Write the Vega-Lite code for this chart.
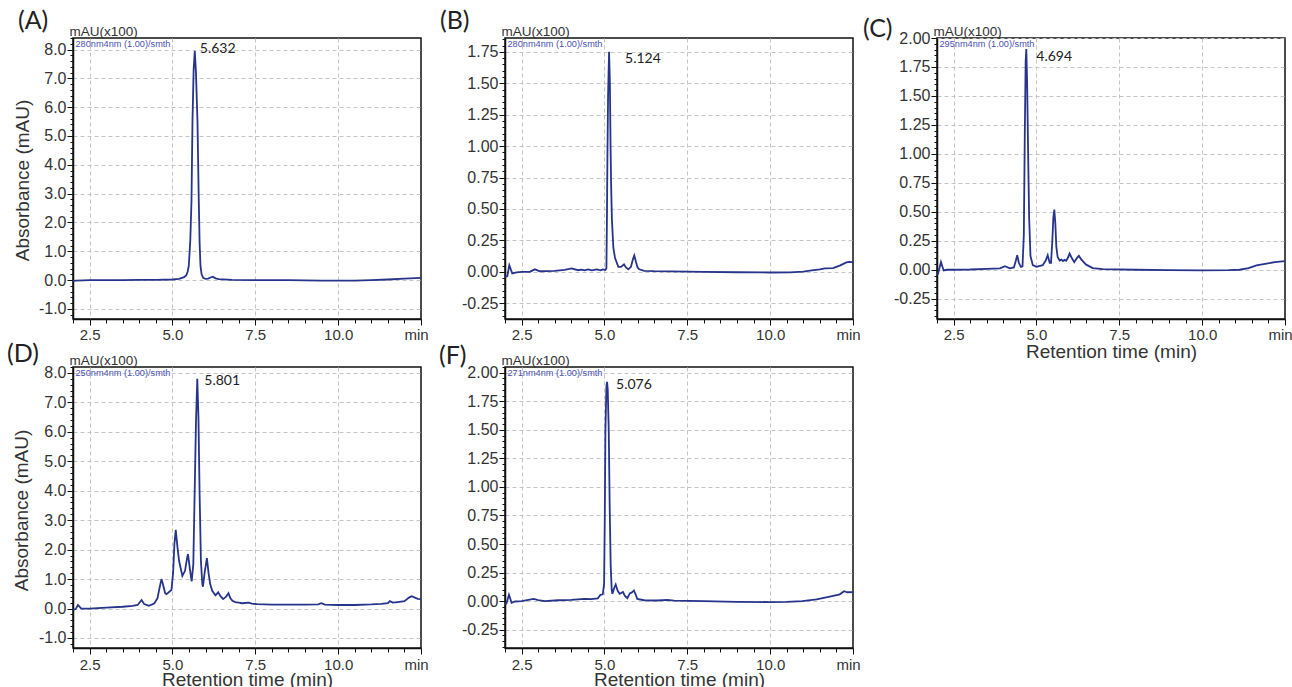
{
  "$schema": "https://vega.github.io/schema/vega-lite/v6.json",
  "background": "white",
  "autosize": {"type": "pad"},
  "padding": {"left": 6, "top": 8, "right": 5, "bottom": 0},
  "datasets": {
    "A": [{"rt":2.0,"abs":-0.03},{"rt":2.1,"abs":-0.02},{"rt":2.5,"abs":0.0},{"rt":3.0,"abs":0.0},{"rt":3.5,"abs":0.0},{"rt":4.0,"abs":0.01},{"rt":4.5,"abs":0.01},{"rt":5.0,"abs":0.02},{"rt":5.2,"abs":0.04},{"rt":5.35,"abs":0.1},{"rt":5.42,"abs":0.17},{"rt":5.46,"abs":0.3},{"rt":5.494,"abs":0.5},{"rt":5.54,"abs":1.4},{"rt":5.575,"abs":2.75},{"rt":5.605,"abs":5.5},{"rt":5.64,"abs":7.3},{"rt":5.675,"abs":7.95},{"rt":5.71,"abs":7.2},{"rt":5.756,"abs":5.5},{"rt":5.795,"abs":2.75},{"rt":5.82,"abs":1.3},{"rt":5.846,"abs":0.5},{"rt":5.88,"abs":0.2},{"rt":5.93,"abs":0.08},{"rt":6.0,"abs":0.04},{"rt":6.08,"abs":0.05},{"rt":6.15,"abs":0.09},{"rt":6.22,"abs":0.12},{"rt":6.3,"abs":0.06},{"rt":6.4,"abs":0.03},{"rt":6.8,"abs":0.01},{"rt":7.5,"abs":0.0},{"rt":8.5,"abs":0.0},{"rt":9.5,"abs":-0.02},{"rt":10.5,"abs":-0.02},{"rt":11.0,"abs":0.0},{"rt":11.5,"abs":0.02},{"rt":12.0,"abs":0.05},{"rt":12.5,"abs":0.08}],
    "B": [{"rt":2.0,"abs":-0.04},{"rt":2.07,"abs":-0.035},{"rt":2.13,"abs":0.053},{"rt":2.22,"abs":-0.013},{"rt":2.35,"abs":-0.005},{"rt":2.5,"abs":0.0},{"rt":2.75,"abs":0.0},{"rt":2.9,"abs":0.02},{"rt":3.05,"abs":0.005},{"rt":3.5,"abs":0.008},{"rt":3.8,"abs":0.015},{"rt":4.01,"abs":0.027},{"rt":4.2,"abs":0.013},{"rt":4.3,"abs":0.018},{"rt":4.4,"abs":0.012},{"rt":4.51,"abs":0.02},{"rt":4.62,"abs":0.012},{"rt":4.77,"abs":0.019},{"rt":4.88,"abs":0.012},{"rt":4.95,"abs":0.02},{"rt":5.03,"abs":0.015},{"rt":5.06,"abs":0.03},{"rt":5.075,"abs":0.4},{"rt":5.09,"abs":0.9},{"rt":5.11,"abs":1.4},{"rt":5.14,"abs":1.75},{"rt":5.165,"abs":1.5},{"rt":5.185,"abs":1.0},{"rt":5.2,"abs":0.72},{"rt":5.225,"abs":0.42},{"rt":5.27,"abs":0.19},{"rt":5.32,"abs":0.11},{"rt":5.42,"abs":0.04},{"rt":5.5,"abs":0.04},{"rt":5.59,"abs":0.06},{"rt":5.65,"abs":0.035},{"rt":5.72,"abs":0.02},{"rt":5.8,"abs":0.04},{"rt":5.86,"abs":0.1},{"rt":5.9,"abs":0.13},{"rt":5.95,"abs":0.08},{"rt":6.0,"abs":0.035},{"rt":6.05,"abs":0.02},{"rt":6.2,"abs":0.008},{"rt":6.5,"abs":0.005},{"rt":7.0,"abs":0.003},{"rt":8.0,"abs":0.0},{"rt":9.0,"abs":-0.003},{"rt":10.0,"abs":-0.005},{"rt":10.6,"abs":-0.004},{"rt":11.0,"abs":0.002},{"rt":11.2,"abs":0.01},{"rt":11.5,"abs":0.02},{"rt":11.65,"abs":0.027},{"rt":11.9,"abs":0.03},{"rt":12.1,"abs":0.05},{"rt":12.3,"abs":0.075},{"rt":12.4,"abs":0.08},{"rt":12.5,"abs":0.075}],
    "C": [{"rt":2.0,"abs":-0.04},{"rt":2.03,"abs":-0.035},{"rt":2.12,"abs":0.066},{"rt":2.2,"abs":-0.006},{"rt":2.3,"abs":0.0},{"rt":2.5,"abs":0.0},{"rt":3.0,"abs":0.002},{"rt":3.5,"abs":0.008},{"rt":3.9,"abs":0.012},{"rt":4.05,"abs":0.03},{"rt":4.2,"abs":0.012},{"rt":4.32,"abs":0.02},{"rt":4.38,"abs":0.08},{"rt":4.42,"abs":0.125},{"rt":4.47,"abs":0.06},{"rt":4.53,"abs":0.025},{"rt":4.58,"abs":0.03},{"rt":4.62,"abs":0.3},{"rt":4.65,"abs":1.2},{"rt":4.675,"abs":1.8},{"rt":4.695,"abs":1.905},{"rt":4.72,"abs":1.6},{"rt":4.75,"abs":1.0},{"rt":4.78,"abs":0.45},{"rt":4.82,"abs":0.12},{"rt":4.89,"abs":0.04},{"rt":5.0,"abs":0.025},{"rt":5.19,"abs":0.04},{"rt":5.28,"abs":0.08},{"rt":5.34,"abs":0.125},{"rt":5.4,"abs":0.06},{"rt":5.44,"abs":0.06},{"rt":5.48,"abs":0.25},{"rt":5.51,"abs":0.45},{"rt":5.54,"abs":0.52},{"rt":5.57,"abs":0.4},{"rt":5.6,"abs":0.2},{"rt":5.64,"abs":0.11},{"rt":5.7,"abs":0.08},{"rt":5.75,"abs":0.087},{"rt":5.8,"abs":0.075},{"rt":5.85,"abs":0.085},{"rt":5.9,"abs":0.077},{"rt":5.96,"abs":0.11},{"rt":6.0,"abs":0.14},{"rt":6.05,"abs":0.11},{"rt":6.14,"abs":0.066},{"rt":6.22,"abs":0.1},{"rt":6.28,"abs":0.12},{"rt":6.35,"abs":0.09},{"rt":6.5,"abs":0.044},{"rt":6.7,"abs":0.014},{"rt":7.0,"abs":0.005},{"rt":8.0,"abs":0.0},{"rt":9.0,"abs":-0.004},{"rt":10.0,"abs":-0.005},{"rt":10.8,"abs":-0.003},{"rt":11.13,"abs":0.0},{"rt":11.4,"abs":0.015},{"rt":11.64,"abs":0.037},{"rt":11.9,"abs":0.05},{"rt":12.19,"abs":0.066},{"rt":12.5,"abs":0.075}],
    "D": [{"rt":2.0,"abs":-0.05},{"rt":2.08,"abs":-0.02},{"rt":2.15,"abs":0.12},{"rt":2.25,"abs":0.0},{"rt":2.5,"abs":0.0},{"rt":3.0,"abs":0.03},{"rt":3.5,"abs":0.06},{"rt":3.8,"abs":0.09},{"rt":3.95,"abs":0.12},{"rt":4.07,"abs":0.29},{"rt":4.15,"abs":0.15},{"rt":4.29,"abs":0.09},{"rt":4.45,"abs":0.17},{"rt":4.55,"abs":0.35},{"rt":4.62,"abs":0.75},{"rt":4.67,"abs":1.0},{"rt":4.72,"abs":0.8},{"rt":4.78,"abs":0.52},{"rt":4.82,"abs":0.49},{"rt":4.97,"abs":0.63},{"rt":5.02,"abs":1.2},{"rt":5.06,"abs":2.2},{"rt":5.1,"abs":2.67},{"rt":5.15,"abs":2.1},{"rt":5.2,"abs":1.62},{"rt":5.3,"abs":1.11},{"rt":5.38,"abs":1.28},{"rt":5.44,"abs":1.7},{"rt":5.47,"abs":1.85},{"rt":5.52,"abs":1.4},{"rt":5.58,"abs":0.92},{"rt":5.63,"abs":1.5},{"rt":5.67,"abs":3.9},{"rt":5.71,"abs":6.3},{"rt":5.75,"abs":7.8},{"rt":5.785,"abs":6.5},{"rt":5.82,"abs":3.9},{"rt":5.86,"abs":1.6},{"rt":5.9,"abs":0.85},{"rt":5.92,"abs":0.74},{"rt":5.97,"abs":1.2},{"rt":6.04,"abs":1.71},{"rt":6.09,"abs":1.2},{"rt":6.14,"abs":0.83},{"rt":6.2,"abs":0.6},{"rt":6.3,"abs":0.45},{"rt":6.38,"abs":0.55},{"rt":6.45,"abs":0.42},{"rt":6.53,"abs":0.32},{"rt":6.62,"abs":0.4},{"rt":6.69,"abs":0.52},{"rt":6.75,"abs":0.35},{"rt":6.81,"abs":0.26},{"rt":6.9,"abs":0.22},{"rt":7.0,"abs":0.2},{"rt":7.1,"abs":0.18},{"rt":7.3,"abs":0.2},{"rt":7.4,"abs":0.17},{"rt":7.55,"abs":0.15},{"rt":8.0,"abs":0.13},{"rt":8.5,"abs":0.13},{"rt":9.0,"abs":0.13},{"rt":9.4,"abs":0.14},{"rt":9.49,"abs":0.18},{"rt":9.6,"abs":0.13},{"rt":10.0,"abs":0.12},{"rt":10.5,"abs":0.12},{"rt":11.0,"abs":0.14},{"rt":11.3,"abs":0.16},{"rt":11.5,"abs":0.18},{"rt":11.56,"abs":0.25},{"rt":11.65,"abs":0.2},{"rt":11.8,"abs":0.22},{"rt":12.0,"abs":0.25},{"rt":12.15,"abs":0.38},{"rt":12.22,"abs":0.42},{"rt":12.3,"abs":0.38},{"rt":12.4,"abs":0.33},{"rt":12.5,"abs":0.32}],
    "F": [{"rt":2.0,"abs":-0.025},{"rt":2.04,"abs":-0.023},{"rt":2.12,"abs":0.056},{"rt":2.2,"abs":-0.014},{"rt":2.3,"abs":-0.003},{"rt":2.5,"abs":0.0},{"rt":2.87,"abs":0.02},{"rt":3.0,"abs":0.01},{"rt":3.2,"abs":0.0},{"rt":3.6,"abs":0.008},{"rt":4.0,"abs":0.012},{"rt":4.4,"abs":0.02},{"rt":4.6,"abs":0.018},{"rt":4.8,"abs":0.025},{"rt":4.88,"abs":0.056},{"rt":4.95,"abs":0.06},{"rt":4.99,"abs":0.15},{"rt":5.01,"abs":0.7},{"rt":5.03,"abs":1.5},{"rt":5.06,"abs":1.88},{"rt":5.08,"abs":1.92},{"rt":5.1,"abs":1.85},{"rt":5.13,"abs":1.5},{"rt":5.16,"abs":0.8},{"rt":5.19,"abs":0.3},{"rt":5.22,"abs":0.1},{"rt":5.24,"abs":0.065},{"rt":5.3,"abs":0.12},{"rt":5.34,"abs":0.146},{"rt":5.4,"abs":0.09},{"rt":5.46,"abs":0.065},{"rt":5.56,"abs":0.08},{"rt":5.62,"abs":0.045},{"rt":5.69,"abs":0.026},{"rt":5.77,"abs":0.07},{"rt":5.82,"abs":0.075},{"rt":5.89,"abs":0.094},{"rt":5.94,"abs":0.06},{"rt":5.99,"abs":0.02},{"rt":6.2,"abs":0.008},{"rt":6.6,"abs":0.006},{"rt":6.9,"abs":0.012},{"rt":7.1,"abs":0.004},{"rt":8.0,"abs":0.0},{"rt":9.0,"abs":-0.006},{"rt":10.0,"abs":-0.008},{"rt":10.5,"abs":-0.006},{"rt":10.97,"abs":0.0},{"rt":11.4,"abs":0.015},{"rt":11.8,"abs":0.04},{"rt":12.1,"abs":0.06},{"rt":12.23,"abs":0.087},{"rt":12.33,"abs":0.078},{"rt":12.5,"abs":0.08}]
  },
  "columns": 3,
  "spacing": {"row": 48, "column": 84},
  "bounds": "flush",
  "concat": [
    {
      "width": 348, "height": 281,
      "title": {"text": "(A)", "anchor": "start", "frame": "group", "align": "left", "baseline": "middle", "offset": 0, "dx": -55, "dy": 22},
      "layer": [
        {"data": {"name": "A"}, "mark": {"type": "line", "color": "#27348b", "strokeWidth": 1.8, "clip": true},
         "encoding": {
           "x": {"field": "rt", "type": "quantitative", "scale": {"domain": [2, 12.5], "nice": false, "zero": false},
             "axis": {"values": [2,2.5,3,3.5,4,4.5,5,5.5,6,6.5,7,7.5,8,8.5,9,9.5,10,10.5,11,11.5,12,12.5], "labelExpr": "datum.value == 12.5 ? 'min' : (datum.value % 2.5 == 0 ? format(datum.value, '.1f') : '')", "labelFontSize": 15, "labelPadding": 2, "labelOffset": {"condition": {"test": "datum.value == 12.5", "value": -5}, "value": 0}, "tickSize": {"condition": {"test": "datum.value % 2.5 == 0", "value": 6}, "value": 4}, "grid": true, "gridOpacity": {"condition": {"test": "datum.value % 2.5 == 0 && datum.value < 12", "value": 1}, "value": 0}, "title": null}},
           "y": {"field": "abs", "type": "quantitative", "scale": {"domain": [-1.35, 8.4], "nice": false, "zero": false},
             "axis": {"values": [-1.2,-1,-0.8,-0.6,-0.4,-0.2,0,0.2,0.4,0.6,0.8,1,1.2,1.4,1.6,1.8,2,2.2,2.4,2.6,2.8,3,3.2,3.4,3.6,3.8,4,4.2,4.4,4.6,4.8,5,5.2,5.4,5.6,5.8,6,6.2,6.4,6.6,6.8,7,7.2,7.4,7.6,7.8,8,8.2,8.4], "labelExpr": "abs(datum.value - round(datum.value)) < 0.001 ? replace(format(datum.value, '.1f'), '\u2212', '-') : ''", "labelFontSize": 16, "labelPadding": 1, "tickSize": {"condition": {"test": "abs(datum.value - round(datum.value)) < 0.001", "value": 6}, "value": 3}, "grid": true, "gridOpacity": {"condition": {"test": "abs(datum.value - round(datum.value)) < 0.001", "value": 1}, "value": 0}, "title": "mAU(x100)", "titleAngle": 0, "titleAlign": "left", "titleBaseline": "alphabetic", "titleX": -4, "titleY": -3, "titleFontSize": 13.5}}
         }},
        {"data": {"values": [{"rt": 5.675, "abs": 7.95, "label": "5.632"}]},
         "mark": {"type": "text", "align": "left", "baseline": "middle", "dx": 5, "dy": -2, "font": "Lato", "fontSize": 14, "color": "#222"},
         "encoding": {
           "x": {"field": "rt", "type": "quantitative", "axis": {"orient": "top", "title": "280nm4nm (1.00)/smth", "labels": false, "ticks": false, "domain": false, "grid": false, "titleX": 2, "titleY": 1.5, "titleAlign": "left", "titleBaseline": "top", "titleFontSize": 9.2, "titleColor": "#4a50b5"}},
           "y": {"field": "abs", "type": "quantitative", "axis": {"orient": "left", "title": "Absorbance (mAU)", "labels": false, "ticks": false, "domain": false, "grid": false, "titleX": -51, "titleY": 142, "titleAngle": 270, "titleAlign": "center", "titleBaseline": "middle", "titleFontSize": 19}},
           "text": {"field": "label"}
         }}
      ],
      "resolve": {"axis": {"x": "independent", "y": "independent"}}
    },
    {
      "width": 348, "height": 281,
      "title": {"text": "(B)", "anchor": "start", "frame": "group", "align": "left", "baseline": "middle", "offset": 0, "dx": -65, "dy": 22},
      "layer": [
        {"data": {"name": "B"}, "mark": {"type": "line", "color": "#27348b", "strokeWidth": 1.8, "clip": true},
         "encoding": {
           "x": {"field": "rt", "type": "quantitative", "scale": {"domain": [2, 12.5], "nice": false, "zero": false},
             "axis": {"values": [2,2.5,3,3.5,4,4.5,5,5.5,6,6.5,7,7.5,8,8.5,9,9.5,10,10.5,11,11.5,12,12.5], "labelExpr": "datum.value == 12.5 ? 'min' : (datum.value % 2.5 == 0 ? format(datum.value, '.1f') : '')", "labelFontSize": 15, "labelPadding": 2, "labelOffset": {"condition": {"test": "datum.value == 12.5", "value": -5}, "value": 0}, "tickSize": {"condition": {"test": "datum.value % 2.5 == 0", "value": 6}, "value": 4}, "grid": true, "gridOpacity": {"condition": {"test": "datum.value % 2.5 == 0 && datum.value < 12", "value": 1}, "value": 0}, "title": null}},
           "y": {"field": "abs", "type": "quantitative", "scale": {"domain": [-0.375, 1.86], "nice": false, "zero": false},
             "axis": {"values": [-0.35,-0.3,-0.25,-0.2,-0.15,-0.1,-0.05,0,0.05,0.1,0.15,0.2,0.25,0.3,0.35,0.4,0.45,0.5,0.55,0.6,0.65,0.7,0.75,0.8,0.85,0.9,0.95,1,1.05,1.1,1.15,1.2,1.25,1.3,1.35,1.4,1.45,1.5,1.55,1.6,1.65,1.7,1.75,1.8,1.85], "labelExpr": "abs(datum.value*4 - round(datum.value*4)) < 0.001 ? replace(format(datum.value, '.2f'), '\u2212', '-') : ''", "labelFontSize": 16, "labelPadding": 1, "tickSize": {"condition": {"test": "abs(datum.value*4 - round(datum.value*4)) < 0.001", "value": 6}, "value": 3}, "grid": true, "gridOpacity": {"condition": {"test": "abs(datum.value*4 - round(datum.value*4)) < 0.001", "value": 1}, "value": 0}, "title": "mAU(x100)", "titleAngle": 0, "titleAlign": "left", "titleBaseline": "alphabetic", "titleX": -4, "titleY": -3, "titleFontSize": 13.5}}
         }},
        {"data": {"values": [{"rt": 5.14, "abs": 1.75, "label": "5.124"}]},
         "mark": {"type": "text", "align": "left", "baseline": "middle", "dx": 16, "dy": 7, "font": "Lato", "fontSize": 14, "color": "#222"},
         "encoding": {
           "x": {"field": "rt", "type": "quantitative", "axis": {"orient": "top", "title": "280nm4nm (1.00)/smth", "labels": false, "ticks": false, "domain": false, "grid": false, "titleX": 2, "titleY": 1.5, "titleAlign": "left", "titleBaseline": "top", "titleFontSize": 9.2, "titleColor": "#4a50b5"}},
           "y": {"field": "abs", "type": "quantitative", "axis": null},
           "text": {"field": "label"}
         }}
      ],
      "resolve": {"axis": {"x": "independent", "y": "independent"}}
    },
    {
      "width": 348, "height": 281,
      "title": {"text": "(C)", "anchor": "start", "frame": "group", "align": "left", "baseline": "middle", "offset": 0, "dx": -74, "dy": 30},
      "layer": [
        {"data": {"name": "C"}, "mark": {"type": "line", "color": "#27348b", "strokeWidth": 1.8, "clip": true},
         "encoding": {
           "x": {"field": "rt", "type": "quantitative", "scale": {"domain": [2, 12.5], "nice": false, "zero": false},
             "axis": {"values": [2,2.5,3,3.5,4,4.5,5,5.5,6,6.5,7,7.5,8,8.5,9,9.5,10,10.5,11,11.5,12,12.5], "labelExpr": "datum.value == 12.5 ? 'min' : (datum.value % 2.5 == 0 ? format(datum.value, '.1f') : '')", "labelFontSize": 15, "labelPadding": 2, "labelOffset": {"condition": {"test": "datum.value == 12.5", "value": -5}, "value": 0}, "tickSize": {"condition": {"test": "datum.value % 2.5 == 0", "value": 6}, "value": 4}, "grid": true, "gridOpacity": {"condition": {"test": "datum.value % 2.5 == 0 && datum.value < 12", "value": 1}, "value": 0}, "title": "Retention time (min)", "titleFontSize": 19, "titlePadding": 0}},
           "y": {"field": "abs", "type": "quantitative", "scale": {"domain": [-0.425, 2.0], "nice": false, "zero": false},
             "axis": {"values": [-0.4,-0.35,-0.3,-0.25,-0.2,-0.15,-0.1,-0.05,0,0.05,0.1,0.15,0.2,0.25,0.3,0.35,0.4,0.45,0.5,0.55,0.6,0.65,0.7,0.75,0.8,0.85,0.9,0.95,1,1.05,1.1,1.15,1.2,1.25,1.3,1.35,1.4,1.45,1.5,1.55,1.6,1.65,1.7,1.75,1.8,1.85,1.9,1.95,2], "labelExpr": "abs(datum.value*4 - round(datum.value*4)) < 0.001 ? replace(format(datum.value, '.2f'), '\u2212', '-') : ''", "labelFontSize": 16, "labelPadding": 1, "tickSize": {"condition": {"test": "abs(datum.value*4 - round(datum.value*4)) < 0.001", "value": 6}, "value": 3}, "grid": true, "gridOpacity": {"condition": {"test": "abs(datum.value*4 - round(datum.value*4)) < 0.001", "value": 1}, "value": 0}, "title": "mAU(x100)", "titleAngle": 0, "titleAlign": "left", "titleBaseline": "alphabetic", "titleX": -4, "titleY": -3, "titleFontSize": 13.5}}
         }},
        {"data": {"values": [{"rt": 4.695, "abs": 1.905, "label": "4.694"}]},
         "mark": {"type": "text", "align": "left", "baseline": "middle", "dx": 10, "dy": 8, "font": "Lato", "fontSize": 14, "color": "#222"},
         "encoding": {
           "x": {"field": "rt", "type": "quantitative", "axis": {"orient": "top", "title": "295nm4nm (1.00)/smth", "labels": false, "ticks": false, "domain": false, "grid": false, "titleX": 2, "titleY": 1.5, "titleAlign": "left", "titleBaseline": "top", "titleFontSize": 9.2, "titleColor": "#4a50b5"}},
           "y": {"field": "abs", "type": "quantitative", "axis": null},
           "text": {"field": "label"}
         }}
      ],
      "resolve": {"axis": {"x": "independent", "y": "independent"}}
    },
    {
      "width": 348, "height": 281,
      "title": {"text": "(D)", "anchor": "start", "frame": "group", "align": "left", "baseline": "middle", "offset": 0, "dx": -66, "dy": 26},
      "layer": [
        {"data": {"name": "D"}, "mark": {"type": "line", "color": "#27348b", "strokeWidth": 1.8, "clip": true},
         "encoding": {
           "x": {"field": "rt", "type": "quantitative", "scale": {"domain": [2, 12.5], "nice": false, "zero": false},
             "axis": {"values": [2,2.5,3,3.5,4,4.5,5,5.5,6,6.5,7,7.5,8,8.5,9,9.5,10,10.5,11,11.5,12,12.5], "labelExpr": "datum.value == 12.5 ? 'min' : (datum.value % 2.5 == 0 ? format(datum.value, '.1f') : '')", "labelFontSize": 15, "labelPadding": 3, "labelOffset": {"condition": {"test": "datum.value == 12.5", "value": -5}, "value": 0}, "tickSize": {"condition": {"test": "datum.value % 2.5 == 0", "value": 6}, "value": 4}, "grid": true, "gridOpacity": {"condition": {"test": "datum.value % 2.5 == 0 && datum.value < 12", "value": 1}, "value": 0}, "title": "Retention time (min)", "titleFontSize": 19, "titlePadding": -2}},
           "y": {"field": "abs", "type": "quantitative", "scale": {"domain": [-1.34, 8.2], "nice": false, "zero": false},
             "axis": {"values": [-1.2,-1,-0.8,-0.6,-0.4,-0.2,0,0.2,0.4,0.6,0.8,1,1.2,1.4,1.6,1.8,2,2.2,2.4,2.6,2.8,3,3.2,3.4,3.6,3.8,4,4.2,4.4,4.6,4.8,5,5.2,5.4,5.6,5.8,6,6.2,6.4,6.6,6.8,7,7.2,7.4,7.6,7.8,8,8.2], "labelExpr": "abs(datum.value - round(datum.value)) < 0.001 ? replace(format(datum.value, '.1f'), '\u2212', '-') : ''", "labelFontSize": 16, "labelPadding": 1, "tickSize": {"condition": {"test": "abs(datum.value - round(datum.value)) < 0.001", "value": 6}, "value": 3}, "grid": true, "gridOpacity": {"condition": {"test": "abs(datum.value - round(datum.value)) < 0.001", "value": 1}, "value": 0}, "title": "mAU(x100)", "titleAngle": 0, "titleAlign": "left", "titleBaseline": "alphabetic", "titleX": -4, "titleY": -3, "titleFontSize": 13.5}}
         }},
        {"data": {"values": [{"rt": 5.75, "abs": 7.8, "label": "5.801"}]},
         "mark": {"type": "text", "align": "left", "baseline": "middle", "dx": 7, "dy": 2, "font": "Lato", "fontSize": 14, "color": "#222"},
         "encoding": {
           "x": {"field": "rt", "type": "quantitative", "axis": {"orient": "top", "title": "250nm4nm (1.00)/smth", "labels": false, "ticks": false, "domain": false, "grid": false, "titleX": 2, "titleY": 1.5, "titleAlign": "left", "titleBaseline": "top", "titleFontSize": 9.2, "titleColor": "#4a50b5"}},
           "y": {"field": "abs", "type": "quantitative", "axis": {"orient": "left", "title": "Absorbance (mAU)", "labels": false, "ticks": false, "domain": false, "grid": false, "titleX": -52, "titleY": 143, "titleAngle": 270, "titleAlign": "center", "titleBaseline": "middle", "titleFontSize": 19}},
           "text": {"field": "label"}
         }}
      ],
      "resolve": {"axis": {"x": "independent", "y": "independent"}}
    },
    {
      "width": 348, "height": 281,
      "title": {"text": "(F)", "anchor": "start", "frame": "group", "align": "left", "baseline": "middle", "offset": 0, "dx": -66, "dy": 28},
      "layer": [
        {"data": {"name": "F"}, "mark": {"type": "line", "color": "#27348b", "strokeWidth": 1.8, "clip": true},
         "encoding": {
           "x": {"field": "rt", "type": "quantitative", "scale": {"domain": [2, 12.5], "nice": false, "zero": false},
             "axis": {"values": [2,2.5,3,3.5,4,4.5,5,5.5,6,6.5,7,7.5,8,8.5,9,9.5,10,10.5,11,11.5,12,12.5], "labelExpr": "datum.value == 12.5 ? 'min' : (datum.value % 2.5 == 0 ? format(datum.value, '.1f') : '')", "labelFontSize": 15, "labelPadding": 3, "labelOffset": {"condition": {"test": "datum.value == 12.5", "value": -5}, "value": 0}, "tickSize": {"condition": {"test": "datum.value % 2.5 == 0", "value": 6}, "value": 4}, "grid": true, "gridOpacity": {"condition": {"test": "datum.value % 2.5 == 0 && datum.value < 12", "value": 1}, "value": 0}, "title": "Retention time (min)", "titleFontSize": 19, "titlePadding": -2}},
           "y": {"field": "abs", "type": "quantitative", "scale": {"domain": [-0.41, 2.05], "nice": false, "zero": false},
             "axis": {"values": [-0.4,-0.35,-0.3,-0.25,-0.2,-0.15,-0.1,-0.05,0,0.05,0.1,0.15,0.2,0.25,0.3,0.35,0.4,0.45,0.5,0.55,0.6,0.65,0.7,0.75,0.8,0.85,0.9,0.95,1,1.05,1.1,1.15,1.2,1.25,1.3,1.35,1.4,1.45,1.5,1.55,1.6,1.65,1.7,1.75,1.8,1.85,1.9,1.95,2,2.05], "labelExpr": "abs(datum.value*4 - round(datum.value*4)) < 0.001 ? replace(format(datum.value, '.2f'), '\u2212', '-') : ''", "labelFontSize": 16, "labelPadding": 1, "tickSize": {"condition": {"test": "abs(datum.value*4 - round(datum.value*4)) < 0.001", "value": 6}, "value": 3}, "grid": true, "gridOpacity": {"condition": {"test": "abs(datum.value*4 - round(datum.value*4)) < 0.001", "value": 1}, "value": 0}, "title": "mAU(x100)", "titleAngle": 0, "titleAlign": "left", "titleBaseline": "alphabetic", "titleX": -4, "titleY": -3, "titleFontSize": 13.5}}
         }},
        {"data": {"values": [{"rt": 5.08, "abs": 1.92, "label": "5.076"}]},
         "mark": {"type": "text", "align": "left", "baseline": "middle", "dx": 9, "dy": 3, "font": "Lato", "fontSize": 14, "color": "#222"},
         "encoding": {
           "x": {"field": "rt", "type": "quantitative", "axis": {"orient": "top", "title": "271nm4nm (1.00)/smth", "labels": false, "ticks": false, "domain": false, "grid": false, "titleX": 2, "titleY": 1.5, "titleAlign": "left", "titleBaseline": "top", "titleFontSize": 9.2, "titleColor": "#4a50b5"}},
           "y": {"field": "abs", "type": "quantitative", "axis": null},
           "text": {"field": "label"}
         }}
      ],
      "resolve": {"axis": {"x": "independent", "y": "independent"}}
    }
  ],
  "config": {
    "view": {"stroke": "#111", "strokeWidth": 1.5},
    "axis": {"domainColor": "#111", "domainWidth": 1.5, "tickColor": "#111", "labelFont": "Liberation Sans", "labelColor": "#333", "gridColor": "#c4c4c4", "gridDash": [4, 3], "labelOverlap": false, "labelFlush": false, "titleFont": "Liberation Sans", "titleFontWeight": "normal", "titleColor": "#333"},
    "title": {"font": "Lato", "fontSize": 25, "fontWeight": "normal", "color": "#222"}
  }
}
